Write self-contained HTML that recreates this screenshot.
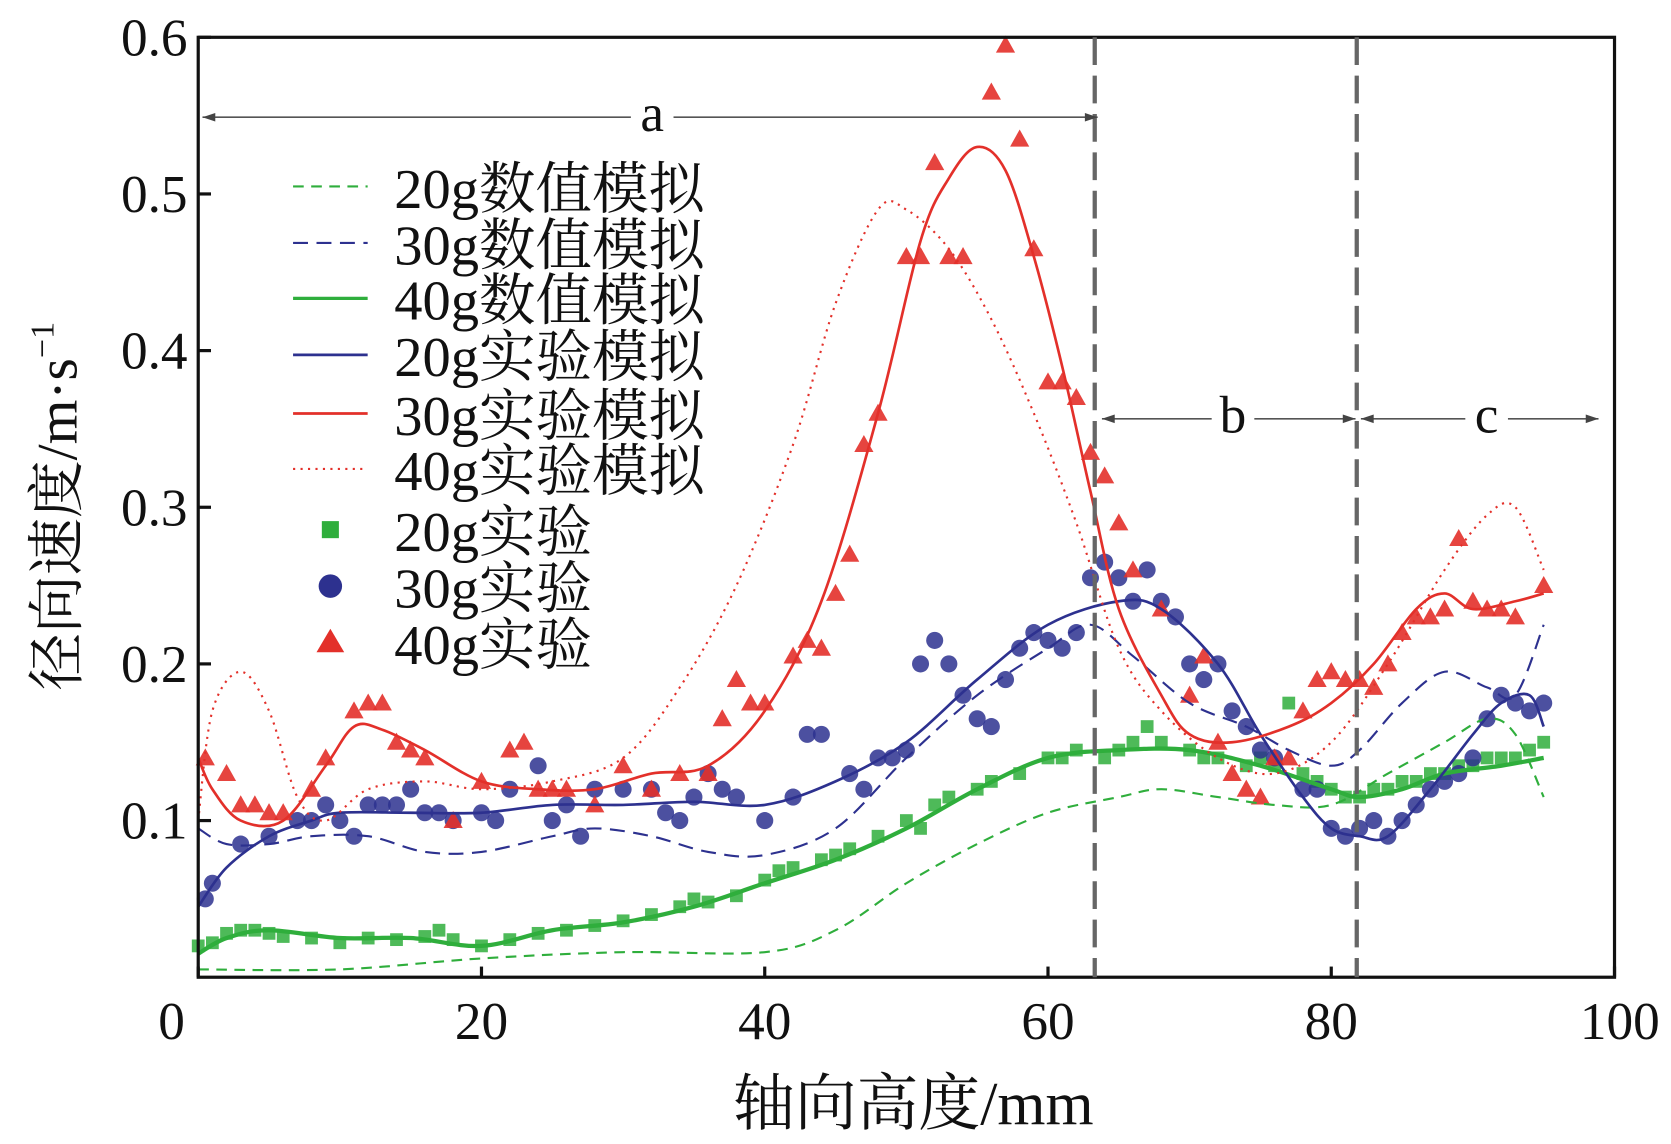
<!DOCTYPE html>
<html><head><meta charset="utf-8">
<style>
html,body{margin:0;padding:0;background:#fff;}
svg{display:block;}
text{font-family:"Liberation Serif","Noto Serif CJK SC","Noto Sans CJK SC",serif;fill:#111;}
</style></head>
<body>
<svg id="chart" width="1671" height="1144" viewBox="0 0 1568 1073.5" preserveAspectRatio="none" xmlns="http://www.w3.org/2000/svg">
<g id="marks"></g>
<g id="axes"></g>
</svg>
<script>
const xTicks=[0,20,40,60,80,100];
const yTicks=[0.1,0.2,0.3,0.4,0.5,0.6];
const yTickLabels=["0.1","0.2","0.3","0.4","0.5","0.6"];
const num20=[[0,0.005],[10,0.005],[20,0.012],[30,0.016],[40,0.016],[45,0.03],[50,0.06],[55,0.085],[60,0.105],[65,0.115],[68,0.12],[72,0.115],[76,0.11],[80,0.11],[84,0.13],[88,0.15],[91,0.165],[93,0.155],[95,0.115]];
const num30=[[0,0.095],[2,0.085],[5,0.085],[8,0.09],[12,0.09],[16,0.08],[20,0.08],[25,0.09],[28,0.095],[32,0.09],[36,0.08],[40,0.078],[45,0.095],[50,0.14],[55,0.18],[60,0.21],[63,0.225],[66,0.205],[70,0.175],[74,0.16],[77,0.145],[80,0.135],[82,0.145],[85,0.175],[88,0.195],[91,0.185],[93,0.18],[95,0.225]];
const num40=[[0,0.015],[2,0.025],[5,0.03],[10,0.025],[15,0.025],[20,0.02],[25,0.03],[30,0.035],[35,0.045],[40,0.06],[45,0.075],[50,0.095],[55,0.12],[60,0.14],[65,0.145],[70,0.145],[75,0.135],[80,0.12],[82,0.115],[85,0.12],[88,0.13],[92,0.135],[95,0.14]];
const fit20=[[0,0.045],[2,0.07],[5,0.09],[8,0.1],[10,0.105],[15,0.105],[20,0.105],[25,0.11],[30,0.11],[35,0.112],[40,0.11],[45,0.125],[50,0.15],[55,0.19],[60,0.225],[65,0.24],[68,0.235],[72,0.2],[75,0.155],[78,0.115],[80,0.095],[82,0.09],[84,0.09],[87,0.12],[90,0.155],[92,0.175],[94,0.18],[95,0.16]];
const fit30=[[0,0.14],[1,0.12],[3,0.1],[6,0.1],[9,0.135],[11,0.16],[13,0.158],[16,0.145],[20,0.125],[24,0.12],[28,0.12],[32,0.13],[36,0.135],[40,0.17],[44,0.24],[48,0.36],[51,0.47],[53,0.51],[55,0.53],[57,0.515],[59,0.46],[61,0.39],[63,0.31],[65,0.235],[68,0.18],[70,0.155],[73,0.15],[77,0.16],[80,0.175],[83,0.2],[86,0.235],[88,0.245],[90,0.235],[93,0.24],[95,0.245]];
const fit40=[[0,0.1],[1,0.17],[3,0.195],[5,0.17],[7,0.115],[9,0.1],[12,0.12],[16,0.125],[20,0.12],[25,0.125],[30,0.14],[34,0.185],[38,0.25],[42,0.34],[45,0.43],[48,0.49],[50,0.49],[53,0.465],[56,0.42],[59,0.36],[62,0.29],[65,0.21],[68,0.17],[72,0.14],[76,0.13],[80,0.15],[84,0.2],[88,0.26],[91,0.295],[93,0.3],[95,0.26]];
const exp40=[[0.5,0.14],[2,0.13],[3,0.11],[4,0.11],[5,0.105],[6,0.105],[8,0.12],[9,0.14],[11,0.17],[12,0.175],[13,0.175],[14,0.15],[15,0.145],[16,0.14],[18,0.1],[20,0.125],[22,0.145],[23,0.15],[24,0.12],[25,0.12],[26,0.12],[28,0.11],[30,0.135],[32,0.12],[34,0.13],[36,0.13],[37,0.165],[38,0.19],[39,0.175],[40,0.175],[42,0.205],[43,0.215],[44,0.21],[45,0.245],[46,0.27],[47,0.34],[48,0.36],[50,0.46],[51,0.46],[52,0.52],[53,0.46],[54,0.46],[56,0.565],[57,0.595],[58,0.535],[59,0.465],[60,0.38],[61,0.38],[62,0.37],[63,0.335],[64,0.32],[65,0.29],[66,0.26],[68,0.235],[70,0.18],[71,0.205],[72,0.15],[73,0.13],[74,0.12],[75,0.115],[76,0.14],[77,0.14],[78,0.17],[79,0.19],[80,0.195],[81,0.19],[82,0.19],[83,0.185],[84,0.2],[85,0.22],[86,0.23],[87,0.23],[88,0.235],[89,0.28],[90,0.24],[91,0.235],[92,0.235],[93,0.23],[95,0.25]];
const exp30=[[0.5,0.05],[1,0.06],[3,0.085],[5,0.09],[7,0.1],[8,0.1],[9,0.11],[10,0.1],[11,0.09],[12,0.11],[13,0.11],[14,0.11],[15,0.12],[16,0.105],[17,0.105],[18,0.1],[20,0.105],[21,0.1],[22,0.12],[24,0.135],[25,0.1],[26,0.11],[27,0.09],[28,0.12],[30,0.12],[32,0.12],[33,0.105],[34,0.1],[35,0.115],[36,0.13],[37,0.12],[38,0.115],[40,0.1],[42,0.115],[43,0.155],[44,0.155],[46,0.13],[47,0.12],[48,0.14],[49,0.14],[50,0.145],[51,0.2],[52,0.215],[53,0.2],[54,0.18],[55,0.165],[56,0.16],[57,0.19],[58,0.21],[59,0.22],[60,0.215],[61,0.21],[62,0.22],[63,0.255],[64,0.265],[65,0.255],[66,0.24],[67,0.26],[68,0.24],[69,0.23],[70,0.2],[71,0.19],[72,0.2],[73,0.17],[74,0.16],[75,0.145],[76,0.14],[78,0.12],[79,0.12],[80,0.095],[81,0.09],[82,0.095],[83,0.1],[84,0.09],[85,0.1],[86,0.11],[87,0.12],[88,0.125],[89,0.13],[90,0.14],[91,0.165],[92,0.18],[93,0.175],[94,0.17],[95,0.175]];
const exp20=[[0,0.02],[1,0.022],[2,0.028],[3,0.03],[4,0.03],[5,0.028],[6,0.026],[8,0.025],[10,0.022],[12,0.025],[14,0.024],[16,0.026],[17,0.03],[18,0.024],[20,0.02],[22,0.024],[24,0.028],[26,0.03],[28,0.033],[30,0.036],[32,0.04],[34,0.045],[35,0.05],[36,0.048],[38,0.052],[40,0.062],[41,0.068],[42,0.07],[44,0.075],[45,0.078],[46,0.082],[48,0.09],[50,0.1],[51,0.095],[52,0.11],[53,0.115],[55,0.12],[56,0.125],[58,0.13],[60,0.14],[61,0.14],[62,0.145],[64,0.14],[65,0.145],[66,0.15],[67,0.16],[68,0.15],[70,0.145],[71,0.14],[72,0.14],[74,0.135],[75,0.14],[76,0.135],[77,0.175],[78,0.13],[79,0.125],[80,0.12],[81,0.115],[82,0.115],[83,0.12],[84,0.12],[85,0.125],[86,0.125],[87,0.13],[88,0.13],[89,0.135],[90,0.135],[91,0.14],[92,0.14],[93,0.14],[94,0.145],[95,0.15]];

const L=186,R=1515,T=35,B=917;
const sx=v=>L+(v/100)*(R-L);
const sy=v=>B-(v/0.6)*(B-T);
const NS="http://www.w3.org/2000/svg";
const marks=document.getElementById('marks');
const axes=document.getElementById('axes');
function mk(tag,attrs,parent){const e=document.createElementNS(NS,tag);for(const k in attrs)e.setAttribute(k,attrs[k]);parent.appendChild(e);return e;}
function smooth(pts){
  const p=pts.map(d=>[sx(d[0]),sy(d[1])]);
  let s="M"+p[0][0]+","+p[0][1];
  for(let i=0;i<p.length-1;i++){
    const p0=p[Math.max(i-1,0)],p1=p[i],p2=p[i+1],p3=p[Math.min(i+2,p.length-1)];
    const c1=[p1[0]+(p2[0]-p0[0])/6,p1[1]+(p2[1]-p0[1])/6];
    const c2=[p2[0]-(p3[0]-p1[0])/6,p2[1]-(p3[1]-p1[1])/6];
    s+=" C"+c1+" "+c2+" "+p2;
  }
  return s;
}
const G="#2fae3c",BL="#2d318f",RD="#e3302a";
exp20.forEach(d=>{const e=mk('rect',{x:sx(d[0])-6,y:sy(d[1])-6,width:12,height:12,fill:G,opacity:0.85},marks);

});
exp30.forEach(d=>{const e=mk('circle',{cx:sx(d[0]),cy:sy(d[1]),r:8,fill:BL,opacity:0.85},marks);

});
exp40.forEach(d=>{const x=sx(d[0]),y=sy(d[1]);const e=mk('polygon',{points:`${x},${y-9} ${x+9},${y+7} ${x-9},${y+7}`,fill:RD,opacity:0.9},marks);

});
const curves=[[num20,G,"10,7",2,'line-20g-numeric'],[num30,BL,"14,8",2,'line-30g-numeric'],[num40,G,"",4,'line-40g-numeric'],[fit20,BL,"",2.5,'line-20g-fit'],[fit30,RD,"",2.5,'line-30g-fit'],[fit40,RD,"2,5",2,'line-40g-fit']];
curves.forEach(c=>{const e=mk('path',{d:smooth(c[0]),fill:'none',stroke:c[1],'stroke-width':c[3],'stroke-dasharray':c[2]},marks);

});
const fr=mk('rect',{x:L,y:T,width:R-L,height:B-T,fill:'none',stroke:'#111','stroke-width':3},axes);


xTicks.forEach(v=>{const x=sx(v);
 mk('line',{x1:x,y1:B,x2:x,y2:B-10,stroke:'#111','stroke-width':3},axes);
 const t=mk('text',{x:v==100?x+5:x-(v==0?25:0),y:B+58,'font-size':50,'text-anchor':'middle'},axes);t.textContent=v;
 
 });
yTicks.forEach((v,i)=>{const y=sy(v);
 mk('line',{x1:L,y1:y,x2:L+12,y2:y,stroke:'#111','stroke-width':3},axes);
 const t=mk('text',{x:L-10,y:y+17,'font-size':50,'text-anchor':'end'},axes);t.textContent=yTickLabels[i];
 
 });
const xt=mk('text',{x:857,y:1055,'font-size':58,'text-anchor':'middle'},axes);xt.textContent="轴向高度/mm";


const yt=mk('text',{x:0,y:0,'font-size':54,'text-anchor':'middle',transform:'translate(72,475) rotate(-90)'},axes);
yt.innerHTML='径向速度/m·s<tspan dy="-22" font-size="32">−1</tspan>';


[63.3,81.8].forEach(v=>{const e=mk('line',{x1:sx(v),y1:T,x2:sx(v),y2:B,stroke:'#666','stroke-width':4,'stroke-dasharray':'26,10'},axes);

});
function arrow(x1,x2,y,lab,lx,name){
 const g=mk('g',{},axes);
 
 
 mk('line',{x1:x1,y1:y,x2:x2,y2:y,stroke:'#555','stroke-width':1.5},g);
 mk('polygon',{points:`${x1},${y} ${x1+12},${y-4} ${x1+12},${y+4}`,fill:'#444'},g);
 mk('polygon',{points:`${x2},${y} ${x2-12},${y-4} ${x2-12},${y+4}`,fill:'#444'},g);
 mk('rect',{x:lx-20,y:y-25,width:40,height:40,fill:'#fff'},g);
 const t=mk('text',{x:lx,y:y+13,'font-size':50,'text-anchor':'middle'},g);t.textContent=lab;}
arrow(190,1030,110,'a',612,'region-a-arrow');
arrow(1034,1272,393,'b',1157,'region-b-arrow');
arrow(1277,1500,393,'c',1395,'region-c-arrow');
const leg=mk('g',{},axes);


const legendItems=[["20g数值模拟","line",G,"10,7",2],["30g数值模拟","line",BL,"14,8",2],["40g数值模拟","line",G,"",3],["20g实验模拟","line",BL,"",2.5],["30g实验模拟","line",RD,"",2.5],["40g实验模拟","line",RD,"2,5",2],["20g实验","sq",G],["30g实验","ci",BL],["40g实验","tri",RD]];
const legY=[175,228,280,333,388,440,497,550,603];
legendItems.forEach((it,i)=>{const y=legY[i];
 const g=mk('g',{},leg);
 
 
 if(it[1]=="line")mk('line',{x1:275,y1:y,x2:345,y2:y,stroke:it[2],'stroke-width':it[4],'stroke-dasharray':it[3]},g);
 else if(it[1]=="sq")mk('rect',{x:302,y:y-8,width:16,height:16,fill:it[2]},g);
 else if(it[1]=="ci")mk('circle',{cx:310,cy:y,r:11,fill:it[2]},g);
 else mk('polygon',{points:`310,${y-13} 323,${y+9} 297,${y+9}`,fill:it[2]},g);
 const t=mk('text',{x:370,y:y+20,'font-size':53},g);t.textContent=it[0];});
</script>
</body></html>
